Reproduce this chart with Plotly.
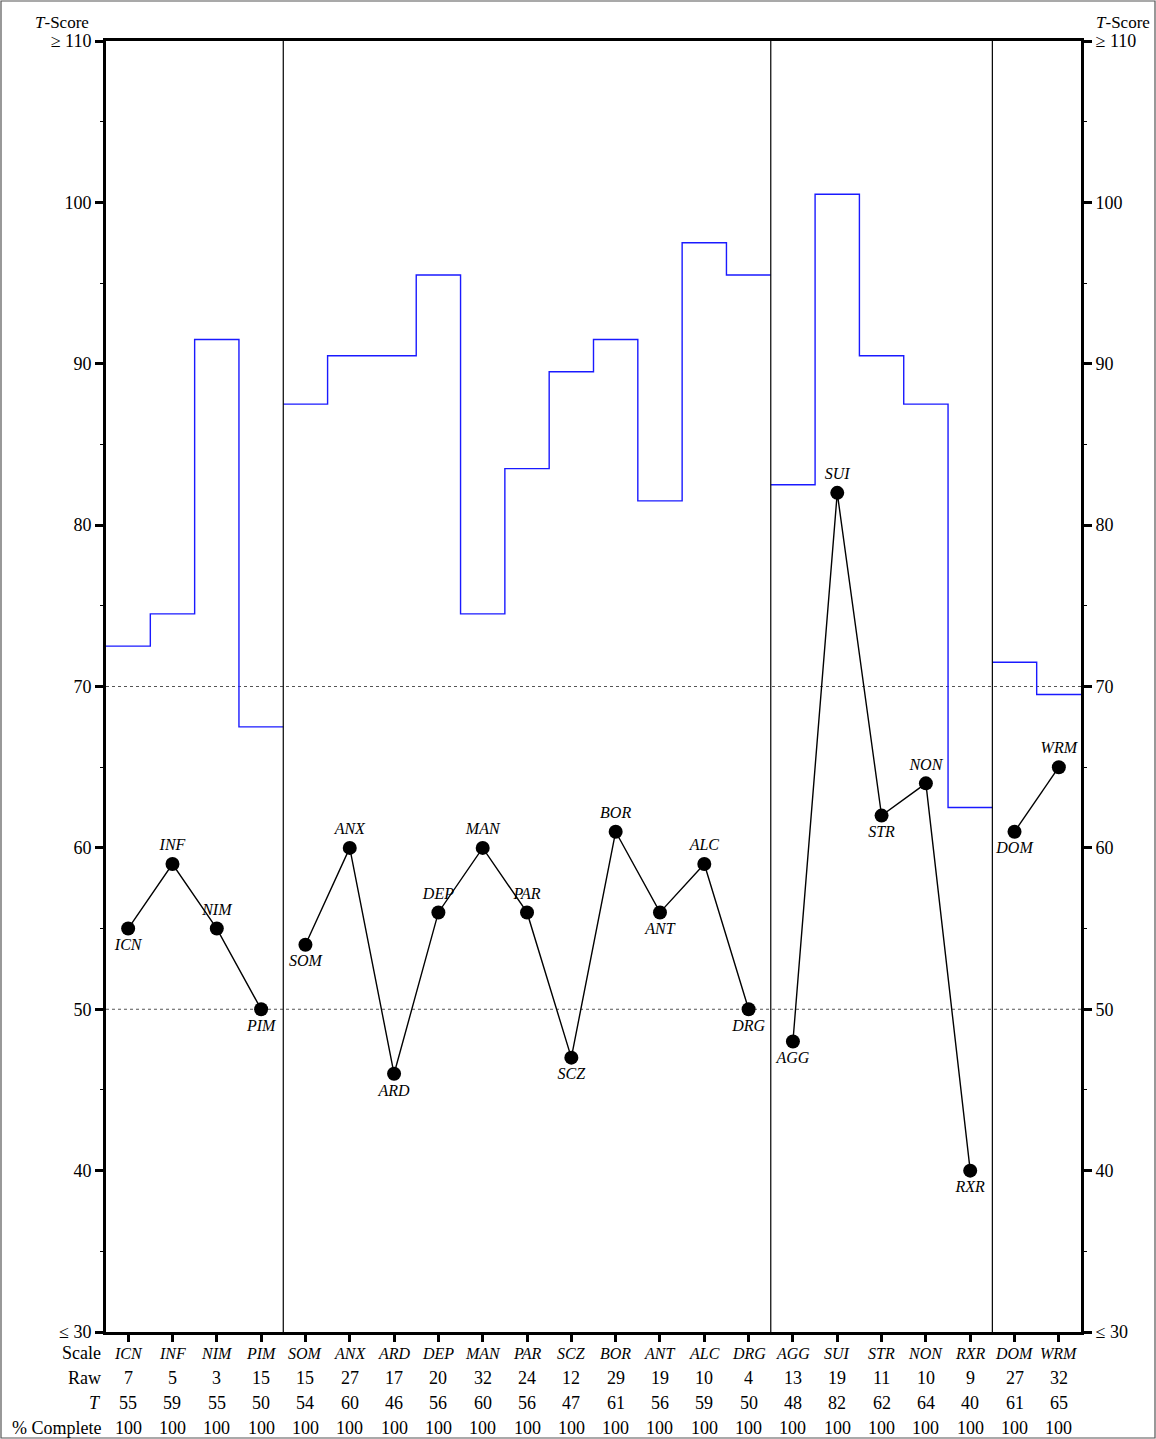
import plotly.graph_objects as go

scales = ["ICN", "INF", "NIM", "PIM", "SOM", "ANX", "ARD", "DEP", "MAN", "PAR", "SCZ",
          "BOR", "ANT", "ALC", "DRG", "AGG", "SUI", "STR", "NON", "RXR", "DOM", "WRM"]
raw_scores = [7, 5, 3, 15, 15, 27, 17, 20, 32, 24, 12, 29, 19, 10, 4, 13, 19, 11, 10, 9, 27, 32]
t_scores = [55, 59, 55, 50, 54, 60, 46, 56, 60, 56, 47, 61, 56, 59, 50, 48, 82, 62, 64, 40, 61, 65]
pct_complete = [100, 100, 100, 100, 100, 100, 100, 100, 100, 100, 100,
                100, 100, 100, 100, 100, 100, 100, 100, 100, 100, 100]
profile_limit = [72.5, 74.5, 91.5, 67.5, 87.5, 90.5, 90.5, 95.5, 74.5, 83.5, 89.5,
                 91.5, 81.5, 97.5, 95.5, 82.5, 100.5, 90.5, 87.5, 62.5, 71.5, 69.5]
group_sizes = [4, 11, 5, 2]
label_side = ["below", "above", "above", "below", "below", "above", "below", "above",
              "above", "above", "below", "above", "below", "above", "below", "below",
              "above", "below", "above", "below", "below", "above"]
ref_lines = [50, 70]
y_ticks = [30, 40, 50, 60, 70, 80, 90, 100, 110]
y_tick_text = ["≤ 30", "40", "50", "60", "70", "80", "90", "100", "≥ 110"]

FONT = "Liberation Serif"
FS = 18
W, H = 1156, 1439
ML, MR, MT, MB = 106, 75, 41, 107

xs = list(range(1, len(scales) + 1))

fig = go.Figure()

start = 0
boundaries = []
for gi, n in enumerate(group_sizes):
    idx = list(range(start, start + n))
    sx = [xs[i] - 0.5 for i in idx] + [xs[idx[-1]] + 0.5]
    sy = [profile_limit[i] for i in idx] + [profile_limit[idx[-1]]]
    fig.add_trace(go.Scatter(x=sx, y=sy, mode="lines", line=dict(color="#1a1aff", width=1.4, shape="hv"),
                             hoverinfo="skip", showlegend=False))
    fig.add_trace(go.Scatter(
        x=[xs[i] for i in idx], y=[t_scores[i] for i in idx],
        mode="lines+markers+text",
        line=dict(color="black", width=1.4),
        marker=dict(color="black", size=14),
        text=["<i>" + scales[i] + "</i>" for i in idx],
        textposition=["top center" if label_side[i] == "above" else "bottom center" for i in idx],
        textfont=dict(family=FONT, size=16, color="black"),
        showlegend=False, cliponaxis=False))
    start += n
    if gi < len(group_sizes) - 1:
        boundaries.append(start + 0.5)

fig.add_trace(go.Scatter(x=[xs[0]], y=[t_scores[0]], yaxis="y2", mode="markers",
                         marker=dict(opacity=0), showlegend=False, hoverinfo="skip"))

shapes = []
for b in boundaries:
    shapes.append(dict(type="line", xref="x", yref="paper", x0=b, x1=b, y0=0, y1=1,
                       line=dict(color="black", width=1.2)))
for r in ref_lines:
    shapes.append(dict(type="line", xref="paper", yref="y", x0=0, x1=1, y0=r, y1=r,
                       line=dict(color="#555555", width=1, dash="dot"), layer="below"))
pw = W - ML - MR
ph = H - MT - MB
shapes.append(dict(type="rect", xref="paper", yref="paper",
                   x0=(-ML + 1) / pw, x1=(W - ML - 1) / pw,
                   y0=(-MB + 1) / ph, y1=(H - MB - 1) / ph,
                   line=dict(color="#555555", width=1.2)))

ann = []
ann.append(dict(xref="paper", yref="paper", x=0, y=1, xanchor="right", yanchor="bottom",
                xshift=-15, yshift=7, text="<i>T</i>-Score", showarrow=False,
                font=dict(family=FONT, size=17, color="black")))
ann.append(dict(xref="paper", yref="paper", x=1, y=1, xanchor="left", yanchor="bottom",
                xshift=13, yshift=7, text="<i>T</i>-Score", showarrow=False,
                font=dict(family=FONT, size=17, color="black")))
rows = [("Scale", ["<i>" + s + "</i>" for s in scales], 16),
        ("Raw", [str(v) for v in raw_scores], FS),
        ("<i>T</i>", [str(v) for v in t_scores], FS),
        ("% Complete", [str(v) for v in pct_complete], FS)]
for ri, (lab, vals, vfs) in enumerate(rows):
    ys = -21 - 25 * ri
    ann.append(dict(xref="paper", yref="paper", x=0, y=0, xanchor="right", yanchor="middle",
                    xshift=-3, yshift=ys, text=lab, showarrow=False,
                    font=dict(family=FONT, size=FS, color="black")))
    for x, v in zip(xs, vals):
        ann.append(dict(xref="x", yref="paper", x=x, y=0, xanchor="center", yanchor="middle",
                        yshift=ys, text=v, showarrow=False,
                        font=dict(family=FONT, size=vfs, color="black")))

yax = dict(range=[30, 110], tickvals=y_ticks, ticktext=y_tick_text, ticks="outside",
           ticklen=8, tickwidth=2.5, tickcolor="black", showline=True, linewidth=3,
           linecolor="black", showgrid=False, zeroline=False,
           tickfont=dict(family=FONT, size=FS, color="black"),
           minor=dict(dtick=5, tick0=0, ticks="outside", ticklen=3, tickwidth=1.2,
                      tickcolor="black", showgrid=False))

fig.update_layout(
    width=W, height=H,
    margin=dict(l=ML, r=MR, t=MT, b=MB),
    paper_bgcolor="white", plot_bgcolor="white",
    font=dict(family=FONT, size=FS, color="black"),
    xaxis=dict(range=[0.5, len(scales) + 0.5], tickvals=xs, showticklabels=False,
               ticks="outside", ticklen=7, tickwidth=2.5, tickcolor="black",
               showline=True, linewidth=3, linecolor="black", mirror=True,
               showgrid=False, zeroline=False),
    yaxis=dict(side="left", **yax),
    yaxis2=dict(side="right", overlaying="y", **yax),
    shapes=shapes, annotations=ann, showlegend=False,
)

fig.write_html("out.html", config={"displayModeBar": False},
               post_script="document.body.style.margin='0';document.body.style.overflow='hidden';")
